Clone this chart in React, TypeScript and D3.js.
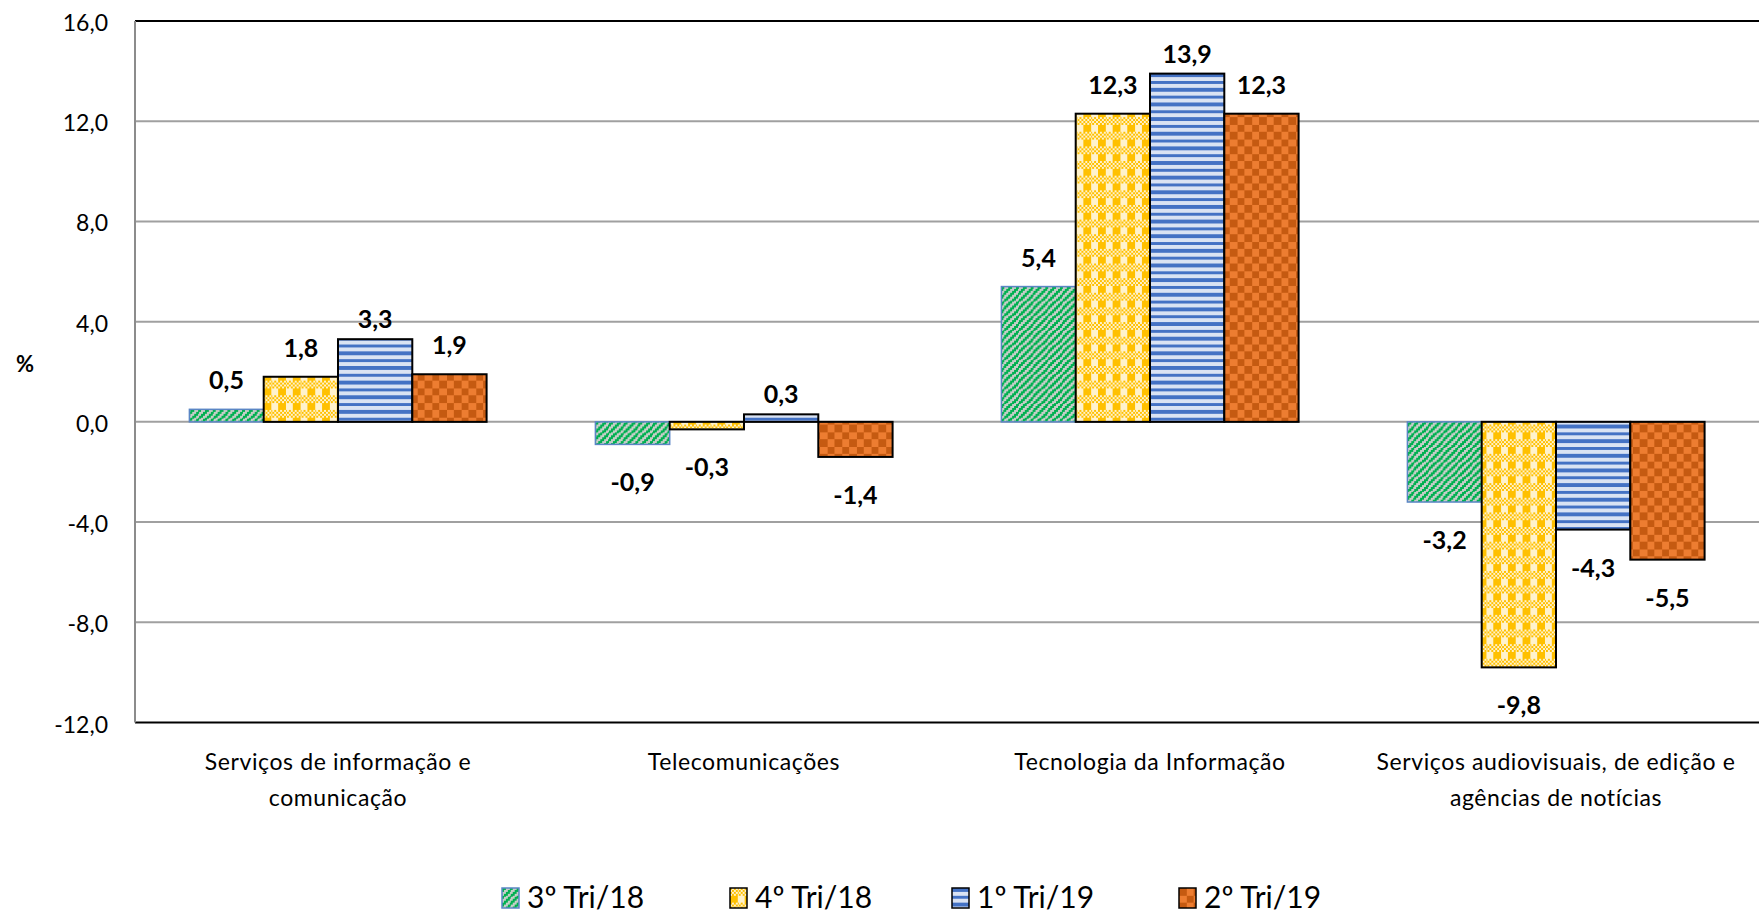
import React from "react";
import * as d3 from "d3";

const categories = [
  "Serviços de informação e comunicação",
  "Telecomunicações",
  "Tecnologia da Informação",
  "Serviços audiovisuais, de edição e agências de notícias",
];
const categoryLines = [
  ["Serviços de informação e", "comunicação"],
  ["Telecomunicações"],
  ["Tecnologia da Informação"],
  ["Serviços audiovisuais, de edição e", "agências de notícias"],
];
const seriesNames = ["3º Tri/18", "4º Tri/18", "1º Tri/19", "2º Tri/19"];
const s3Tri18 = [0.5, -0.9, 5.4, -3.2];
const s4Tri18 = [1.8, -0.3, 12.3, -9.8];
const s1Tri19 = [3.3, 0.3, 13.9, -4.3];
const s2Tri19 = [1.9, -1.4, 12.3, -5.5];
const seriesValues = [s3Tri18, s4Tri18, s1Tri19, s2Tri19];
const yTicks = [-12, -8, -4, 0, 4, 8, 12, 16];

const W = 1760;
const H = 916;
const plot = { left: 135, right: 1759, top: 21, bottom: 722.5 };

type Px = (x: number, y: number) => boolean;
const patDefs: { id: string; fg: string; bg: string; on: Px }[] = [
  { id: "p0", fg: "#00B050", bg: "#C6CDC8", on: (x, y) => (x + y) % 4 < 2 },
  {
    id: "p1",
    fg: "#FFC000",
    bg: "#FFF2CC",
    on: (x, y) => (y < 4 ? (x + y) % 2 === 0 : x < 4),
  },
  { id: "p2", fg: "#4472C4", bg: "#DAE3F3", on: (x, y) => y % 4 < 2 },
  {
    id: "p3",
    fg: "#C55A11",
    bg: "#ED7D31",
    on: (x, y) => (Math.floor(x / 4) + Math.floor(y / 4)) % 2 === 0,
  },
];
const strokes = ["#5B86C5", "#000", "#000", "#000"];
const strokeW = [1.5, 2, 2, 2];

const font = "Lato, 'Open Sans', sans-serif";

export default function App() {
  const y = d3.scaleLinear().domain([-12, 16]).range([plot.bottom, plot.top]);
  const x0 = d3
    .scaleBand<string>()
    .domain(categories)
    .range([plot.left, plot.right])
    .paddingInner(0.268)
    .paddingOuter(0.134);
  const x1 = d3
    .scaleBand<number>()
    .domain(d3.range(seriesNames.length))
    .range([0, x0.bandwidth()]);
  const fmt = (v: number) => v.toFixed(1).replace(".", ",");

  const cells = d3.range(8).flatMap((yy) => d3.range(8).map((xx) => [xx, yy]));

  const legendX = [502, 730, 952, 1179];

  return (
    <svg
      width={W}
      height={H}
      style={{ position: "absolute", left: 0, top: 0, background: "#fff" }}
    >
      <defs>
        {patDefs.map((p) => (
          <pattern
            key={p.id}
            id={p.id}
            width={8}
            height={8}
            patternUnits="userSpaceOnUse"
            patternTransform="scale(1.83)"
          >
            <rect width={8} height={8} fill={p.bg} />
            {cells
              .filter(([xx, yy]) => p.on(xx, yy))
              .map(([xx, yy]) => (
                <rect
                  key={`${xx}-${yy}`}
                  x={xx}
                  y={yy}
                  width={1}
                  height={1}
                  fill={p.fg}
                  shapeRendering="crispEdges"
                />
              ))}
          </pattern>
        ))}
      </defs>
      <rect width={W} height={H} fill="#fff" />

      {yTicks.map((t) => (
        <line
          key={t}
          x1={plot.left}
          x2={plot.right}
          y1={y(t)}
          y2={y(t)}
          stroke={t === 16 || t === -12 ? "#000" : "#A0A0A0"}
          strokeWidth={2}
        />
      ))}
      <line
        x1={plot.left}
        x2={plot.left}
        y1={plot.top}
        y2={plot.bottom}
        stroke="#8C8C8C"
        strokeWidth={2}
      />

      {yTicks.map((t) => (
        <text
          key={t}
          x={108}
          y={y(t) + 2}
          dy="0.35em"
          textAnchor="end"
          fontFamily={font}
          fontSize={23}
          fill="#000"
        >
          {fmt(t)}
        </text>
      ))}
      <text
        x={25}
        y={364}
        dy="0.35em"
        textAnchor="middle"
        fontFamily={font}
        fontSize={22}
        fontWeight="bold"
      >
        %
      </text>

      {seriesValues.map((vals, si) =>
        vals.map((v, ci) => {
          const bx = (x0(categories[ci]) ?? 0) + (x1(si) ?? 0);
          const top = y(Math.max(0, v));
          const bot = y(Math.min(0, v));
          return (
            <rect
              key={`${si}-${ci}`}
              x={bx}
              y={top}
              width={x1.bandwidth()}
              height={bot - top}
              fill={`url(#p${si})`}
              stroke={strokes[si]}
              strokeWidth={strokeW[si]}
            />
          );
        })
      )}

      {seriesValues.map((vals, si) =>
        vals.map((v, ci) => {
          const cx =
            (x0(categories[ci]) ?? 0) + (x1(si) ?? 0) + x1.bandwidth() / 2;
          const ly = v >= 0 ? y(v) - (si === 2 ? 11 : 20) : y(v) + 47;
          return (
            <text
              key={`l${si}-${ci}`}
              x={cx}
              y={ly}
              textAnchor="middle"
              fontFamily={font}
              fontSize={25}
              fontWeight="bold"
              fill="#000"
            >
              {fmt(v)}
            </text>
          );
        })
      )}

      {categories.map((c, ci) => {
        const cx = (x0(c) ?? 0) + x0.bandwidth() / 2;
        return (
          <text
            key={c}
            x={cx}
            textAnchor="middle"
            fontFamily={font}
            fontSize={23}
            letterSpacing={0.6}
            fill="#000"
          >
            {categoryLines[ci].map((ln, li) => (
              <tspan key={li} x={cx} y={770 + li * 36}>
                {ln}
              </tspan>
            ))}
          </text>
        );
      })}

      {seriesNames.map((n, si) => (
        <g key={n} transform={`translate(${legendX[si]},888)`}>
          <rect
            width={17}
            height={20}
            fill={`url(#p${si})`}
            stroke={strokes[si]}
            strokeWidth={1.5}
          />
          <text x={25} y={20} fontFamily={font} fontSize={30} fill="#000">
            {n}
          </text>
        </g>
      ))}
    </svg>
  );
}
